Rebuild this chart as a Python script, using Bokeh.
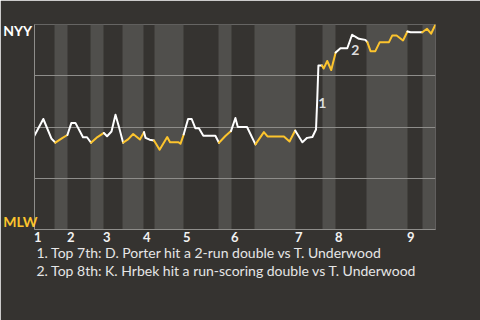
from bokeh.plotting import figure
from bokeh.models import Range1d, FixedTicker, CustomJSTickFormatter, Label
from bokeh.embed import file_html
from bokeh.resources import INLINE

# Win probability (1 = NYY wins, 0 = MLW wins), sampled along the game timeline
play_x = [0.0, 2.2, 4.2, 5.2, 6.9, 8.2, 9.2, 10.2, 12.1, 13.1, 14.1, 15.7, 17.3,
          18.1, 19.2, 20.2, 21.1, 22.1, 23.4, 24.6, 26.3, 27.3, 27.7, 28.7, 29.8,
          30.3, 31.2, 33.1, 33.8, 35.9, 36.4, 37.2, 38.3, 39.2, 40.1, 41.0, 42.1,
          45.1, 46.0, 47.6, 49.0, 50.1, 50.7, 53.0, 55.1, 57.2, 58.1, 62.2, 63.6,
          65.0, 66.8, 68.0, 69.3, 70.2, 70.5, 70.8, 71.7, 72.1, 73.0, 74.0, 75.1,
          76.3, 78.0, 79.2, 80.9, 82.5, 83.0, 83.8, 85.0, 86.1, 88.4, 89.2, 90.3,
          91.9, 93.0, 93.8, 96.7, 97.9, 98.9, 100.0]
win_prob = [0.459, 0.539, 0.444, 0.424, 0.446, 0.461, 0.520, 0.520, 0.450, 0.450,
            0.423, 0.451, 0.471, 0.455, 0.478, 0.560, 0.498, 0.423, 0.441, 0.466,
            0.439, 0.475, 0.447, 0.438, 0.434, 0.418, 0.389, 0.451, 0.426, 0.426,
            0.418, 0.463, 0.539, 0.539, 0.494, 0.494, 0.457, 0.457, 0.423, 0.456,
            0.480, 0.544, 0.500, 0.500, 0.415, 0.475, 0.454, 0.454, 0.429, 0.483,
            0.426, 0.447, 0.451, 0.488, 0.629, 0.800, 0.800, 0.785, 0.822, 0.778,
            0.863, 0.884, 0.884, 0.950, 0.930, 0.925, 0.914, 0.870, 0.870, 0.914,
            0.914, 0.946, 0.946, 0.922, 0.966, 0.962, 0.962, 0.979, 0.955, 1.0]

# Half-inning boundaries on the same timeline
top_starts = [0.0, 8.23, 17.21, 27.18, 37.16, 49.13, 65.09, 75.06, 93.02]
bottom_starts = [4.99, 13.97, 21.95, 29.93, 45.89, 54.86, 71.82, 82.79, 96.76]
game_end = 100.0
inning_labels = ["1", "2", "3", "4", "5", "6", "7", "8", "9"]

# Annotated key plays
note_labels = ["1", "2"]
note_x = [71.8, 80.0]
note_y = [0.615, 0.878]
footnotes = [
    "1. Top 7th: D. Porter hit a 2-run double vs T. Underwood",
    "2. Top 8th: K. Hrbek hit a run-scoring double vs T. Underwood",
]

BG = "#353330"
BAND = "#504f4c"
GRID = "#8e8d8a"
AWAY = "#ffffff"
HOME = "#fcc42d"
FONT = "Lato"

p = figure(frame_width=401, frame_height=205,
           x_range=Range1d(0, game_end), y_range=Range1d(0, 1),
           output_backend="svg", toolbar_location=None,
           min_border_left=34, min_border_right=45,
           min_border_top=24, min_border_bottom=91,
           background_fill_color=BG, border_fill_color=BG,
           outline_line_color=None)

# Bottom halves shaded
half_ends = top_starts[1:] + [game_end]
p.quad(left=bottom_starts, right=half_ends, bottom=0, top=1,
       fill_color=BAND, line_color=None, level="image")

# Colour each stretch by which team is batting
def batting_color(x):
    idx = sum(1 for t in top_starts if t <= x) - 1
    return HOME if x >= bottom_starts[idx] else AWAY

xs, ys, cols = [], [], []
for i in range(len(play_x) - 1):
    c = batting_color((play_x[i] + play_x[i + 1]) / 2)
    if cols and cols[-1] == c:
        xs[-1].append(play_x[i + 1])
        ys[-1].append(win_prob[i + 1])
    else:
        xs.append([play_x[i], play_x[i + 1]])
        ys.append([win_prob[i], win_prob[i + 1]])
        cols.append(c)
p.multi_line(xs, ys, line_color=cols, line_width=2,
             line_join="round", line_cap="round")

# Axes and grid
p.xgrid.visible = False
p.ygrid.ticker = FixedTicker(ticks=[0.25, 0.5, 0.75, 1.0])
p.ygrid.grid_line_color = GRID
p.ygrid.grid_line_width = 1

p.xaxis.ticker = FixedTicker(ticks=[t + 0.8 for t in top_starts])
p.xaxis.formatter = CustomJSTickFormatter(args=dict(labels=inning_labels),
                                          code="return labels[index]")
p.xaxis.axis_line_color = GRID
p.xaxis.major_tick_line_color = None
p.xaxis.minor_tick_line_color = None
p.xaxis.major_tick_out = 0
p.xaxis.major_tick_in = 0
p.xaxis.minor_tick_out = 0
p.xaxis.major_label_standoff = 2
p.xaxis.major_label_text_font = FONT
p.xaxis.major_label_text_font_style = "bold"
p.xaxis.major_label_text_font_size = "13px"
p.xaxis.major_label_text_color = "#f2f2f2"

p.yaxis.ticker = FixedTicker(ticks=[])
p.yaxis.axis_line_color = GRID
p.yaxis.major_tick_line_color = None
p.yaxis.minor_tick_line_color = None
p.yaxis.major_tick_out = 0
p.yaxis.minor_tick_out = 0

# Text outside the frame lives in the bottom margin panel so it is not clipped
margin_labels = [
    Label(x=-7.8, y=1.01, text="NYY", text_align="left", text_baseline="top",
          text_font=FONT, text_font_style="bold", text_font_size="14px",
          text_color=AWAY),
    Label(x=-7.8, y=0, text="MLW", text_align="left", text_baseline="bottom",
          text_font=FONT, text_font_style="bold", text_font_size="14px",
          text_color=HOME),
]
for i, line in enumerate(footnotes):
    margin_labels.append(
        Label(x=0.5, y=-0.112 - i * 0.088, text=line, text_align="left",
              text_baseline="alphabetic", text_font=FONT,
              text_font_size="14px", text_color="#e6e6e6"))
for lab in margin_labels:
    p.add_layout(lab, "below")

for t, x, y in zip(note_labels, note_x, note_y):
    p.add_layout(Label(x=x, y=y, text=t, text_align="center", text_baseline="middle",
                       text_font=FONT, text_font_style="bold", text_font_size="14px",
                       text_color="#dddddd"))

open("out.html", "w").write(file_html(p, INLINE))
